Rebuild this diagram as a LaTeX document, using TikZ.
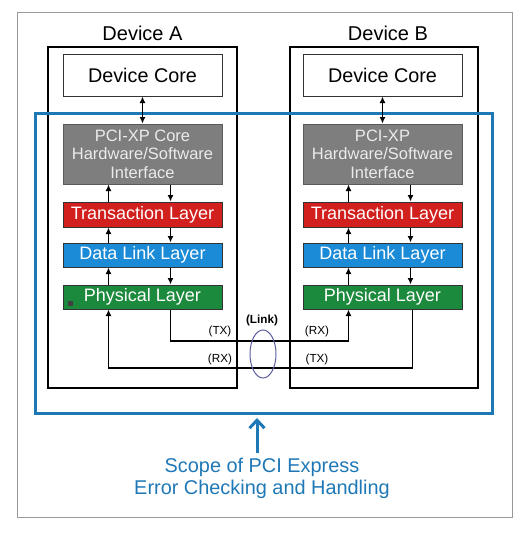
\documentclass[tikz,border=0pt]{standalone}
\usepackage{fontspec}
\setmainfont{Liberation Sans}
\usetikzlibrary{shapes.geometric,arrows.meta}

\definecolor{layerGray}{HTML}{7E7E7E}
\definecolor{layerRed}{HTML}{D2201F}
\definecolor{layerBlue}{HTML}{1B8BD8}
\definecolor{layerGreen}{HTML}{1C8A3C}
\definecolor{scopeBlue}{HTML}{1F78B6}
\definecolor{linkPurple}{HTML}{5E5E9E}

\begin{document}
\begin{tikzpicture}[x=1pt, y=-1pt,
  layer/.style={draw=black!80, line width=1pt, minimum width=159pt, inner sep=0pt,
    text=white, font=\fontsize{18}{20}\selectfont},
  tag/.style={font=\fontsize{11.7}{13}\selectfont, inner sep=0pt},
  wire/.style={line width=1.3pt, -{Latex[length=6.5pt,width=6pt]}},
  twoway/.style={line width=1.3pt, {Latex[length=6.5pt,width=6pt]}-{Latex[length=6.5pt,width=6pt]}}]

  \useasboundingbox (0,0) rectangle (530,536);

  % The outer frame
  \draw[gray!80, line width=0.8pt] (17,12) rectangle (512,517);

  \def \xA  {142.5}
  \def \xB  {382.5}
  \def \up  {-34}
  \def \dn  {28}

  % Device frames
  \node[draw, line width=1.1pt, minimum width=189pt, minimum height=341pt] (devA) at (\xA, 217.5) {};
  \node[draw, line width=1.1pt, minimum width=188pt, minimum height=341pt] (devB) at (384, 217.5) {};
  \node[font=\fontsize{20}{24}\selectfont] (labA) at (\xA, 33) {Device A};
  \node[font=\fontsize{20}{24}\selectfont] (labB) at (388, 33) {Device B};

  % Device A stack
  \node[layer, fill=white, text=black, minimum height=42pt, font=\fontsize{19.8}{22}\selectfont] (coreA) at (\xA, 75) {Device Core};
  \node[layer, fill=layerGray, draw=black!65, text=white!92!black, minimum height=60pt, align=center,
    font=\fontsize{16.5}{18.5}\selectfont] (hwA) at (\xA, 154) {PCI-XP Core\\Hardware/Software\\Interface};
  \node[layer, fill=layerRed, minimum height=25pt] (tlA) at (\xA, 214.5) {Transaction Layer};
  \node[layer, fill=layerBlue, minimum height=24pt] (dlA) at (\xA, 255) {Data Link Layer};
  \node[layer, fill=layerGreen, minimum height=24pt] (phA) at (\xA, 297) {Physical Layer};
  \fill[black!75] (68,301) rectangle (73,306);

  % Device B stack
  \node[layer, fill=white, text=black, minimum height=42pt, font=\fontsize{19.8}{22}\selectfont] (coreB) at (\xB, 75) {Device Core};
  \node[layer, fill=layerGray, draw=black!65, text=white!92!black, minimum height=60pt, align=center,
    font=\fontsize{16.5}{18.5}\selectfont] (hwB) at (\xB, 154) {PCI-XP\\Hardware/Software\\Interface};
  \node[layer, fill=layerRed, minimum height=25pt] (tlB) at (\xB, 214.5) {Transaction Layer};
  \node[layer, fill=layerBlue, minimum height=24pt] (dlB) at (\xB, 255) {Data Link Layer};
  \node[layer, fill=layerGreen, minimum height=24pt] (phB) at (\xB, 297) {Physical Layer};

  % Scope of error checking
  \draw[scopeBlue, line width=3pt] (35,113) rectangle (492,413);

  % LINES inside the stacks
  \draw[twoway] (coreA) -- (hwA);
  \draw[twoway] (coreB) -- (hwB);

  \draw[wire] ([xshift=\up pt]tlA.north) -- ([xshift=\up pt]hwA.south);
  \draw[wire] ([xshift=\dn pt]hwA.south) -- ([xshift=\dn pt]tlA.north);
  \draw[wire] ([xshift=\up pt]dlA.north) -- ([xshift=\up pt]tlA.south);
  \draw[wire] ([xshift=\dn pt]tlA.south) -- ([xshift=\dn pt]dlA.north);
  \draw[wire] ([xshift=\up pt]phA.north) -- ([xshift=\up pt]dlA.south);
  \draw[wire] ([xshift=\dn pt]dlA.south) -- ([xshift=\dn pt]phA.north);

  \draw[wire] ([xshift=\up pt]tlB.north) -- ([xshift=\up pt]hwB.south);
  \draw[wire] ([xshift=\dn pt]hwB.south) -- ([xshift=\dn pt]tlB.north);
  \draw[wire] ([xshift=\up pt]dlB.north) -- ([xshift=\up pt]tlB.south);
  \draw[wire] ([xshift=\dn pt]tlB.south) -- ([xshift=\dn pt]dlB.north);
  \draw[wire] ([xshift=\up pt]phB.north) -- ([xshift=\up pt]dlB.south);
  \draw[wire] ([xshift=\dn pt]dlB.south) -- ([xshift=\dn pt]phB.north);

  % The link
  \coordinate (linkTop) at (263, 341);
  \coordinate (linkBot) at (263, 368);
  \draw[wire] ([xshift=\dn pt]phA.south) |- (linkTop) -| ([xshift=\up pt]phB.south);
  \draw[wire] ([xshift=30 pt]phB.south) |- (linkBot) -| ([xshift=\up pt]phA.south);

  \node[draw=linkPurple, line width=1pt, ellipse, minimum width=26pt, minimum height=48pt, inner sep=0pt] (link) at (263, 354) {};
  \node[tag, font=\bfseries\fontsize{11.7}{13}\selectfont] (linkLab) at (262, 320) {(Link)};

  \node[tag] (txA) at (220, 331) {(TX)};
  \node[tag] (rxA) at (220, 359) {(RX)};
  \node[tag] (rxB) at (317, 331) {(RX)};
  \node[tag] (txB) at (317, 359) {(TX)};

  % Scope caption
  \node[text=scopeBlue, align=center, font=\fontsize{19.9}{22}\selectfont] (scope) at (262, 478)
    {Scope of PCI Express\\Error Checking and Handling};
  \coordinate (scopeTip) at (257, 418);
  \draw[scopeBlue, line width=3pt, -{Straight Barb[length=8pt,width=15pt]}] (scope.north -| scopeTip) ++(0,-1) -- (scopeTip);

\end{tikzpicture}
\end{document}
